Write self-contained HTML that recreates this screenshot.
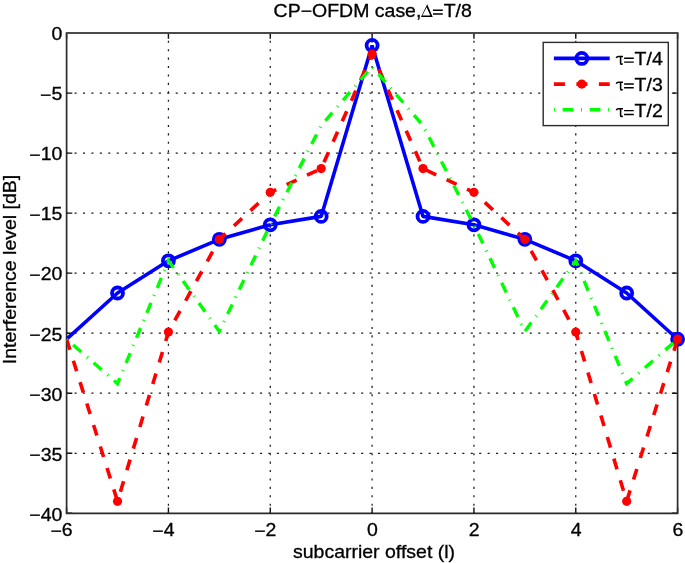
<!DOCTYPE html><html><head><meta charset="utf-8"><style>html,body{margin:0;padding:0;background:#fff;}svg{display:block;will-change:transform}text{font-family:'Liberation Sans',sans-serif;}</style></head><body>
<svg width="685" height="563" viewBox="0 0 685 563">
<rect x="0" y="0" width="685" height="563" fill="#fff"/>
<line x1="168.43" y1="33.05" x2="168.43" y2="513.30" style="stroke:#1c1c1c;stroke-width:1.25;stroke-dasharray:2.1 6.316;stroke-dashoffset:0.72;fill:none"/><line x1="270.27" y1="33.05" x2="270.27" y2="513.30" style="stroke:#1c1c1c;stroke-width:1.25;stroke-dasharray:2.1 6.316;stroke-dashoffset:0.72;fill:none"/><line x1="372.10" y1="33.05" x2="372.10" y2="513.30" style="stroke:#1c1c1c;stroke-width:1.25;stroke-dasharray:2.1 6.316;stroke-dashoffset:0.72;fill:none"/><line x1="473.93" y1="33.05" x2="473.93" y2="513.30" style="stroke:#1c1c1c;stroke-width:1.25;stroke-dasharray:2.1 6.316;stroke-dashoffset:0.72;fill:none"/><line x1="575.77" y1="33.05" x2="575.77" y2="513.30" style="stroke:#1c1c1c;stroke-width:1.25;stroke-dasharray:2.1 6.316;stroke-dashoffset:0.72;fill:none"/><line x1="66.60" y1="453.27" x2="677.60" y2="453.27" style="stroke:#1c1c1c;stroke-width:1.25;stroke-dasharray:2.1 6.33;stroke-dashoffset:0.5;fill:none"/><line x1="66.60" y1="393.24" x2="677.60" y2="393.24" style="stroke:#1c1c1c;stroke-width:1.25;stroke-dasharray:2.1 6.33;stroke-dashoffset:0.5;fill:none"/><line x1="66.60" y1="333.21" x2="677.60" y2="333.21" style="stroke:#1c1c1c;stroke-width:1.25;stroke-dasharray:2.1 6.33;stroke-dashoffset:0.5;fill:none"/><line x1="66.60" y1="273.17" x2="677.60" y2="273.17" style="stroke:#1c1c1c;stroke-width:1.25;stroke-dasharray:2.1 6.33;stroke-dashoffset:0.5;fill:none"/><line x1="66.60" y1="213.14" x2="677.60" y2="213.14" style="stroke:#1c1c1c;stroke-width:1.25;stroke-dasharray:2.1 6.33;stroke-dashoffset:0.5;fill:none"/><line x1="66.60" y1="153.11" x2="677.60" y2="153.11" style="stroke:#1c1c1c;stroke-width:1.25;stroke-dasharray:2.1 6.33;stroke-dashoffset:0.5;fill:none"/><line x1="66.60" y1="93.08" x2="677.60" y2="93.08" style="stroke:#1c1c1c;stroke-width:1.25;stroke-dasharray:2.1 6.33;stroke-dashoffset:0.5;fill:none"/>
<path d="M66.60 513.30V507.60M66.60 33.05V38.75M168.43 513.30V507.60M168.43 33.05V38.75M270.27 513.30V507.60M270.27 33.05V38.75M372.10 513.30V507.60M372.10 33.05V38.75M473.93 513.30V507.60M473.93 33.05V38.75M575.77 513.30V507.60M575.77 33.05V38.75M677.60 513.30V507.60M677.60 33.05V38.75M66.60 513.30H72.30M677.60 513.30H671.90M66.60 453.27H72.30M677.60 453.27H671.90M66.60 393.24H72.30M677.60 393.24H671.90M66.60 333.21H72.30M677.60 333.21H671.90M66.60 273.17H72.30M677.60 273.17H671.90M66.60 213.14H72.30M677.60 213.14H671.90M66.60 153.11H72.30M677.60 153.11H671.90M66.60 93.08H72.30M677.60 93.08H671.90M66.60 33.05H72.30M677.60 33.05H671.90" stroke="#111" stroke-width="1.4" fill="none"/>
<path d="M66.60 33.05V513.30H677.60V33.05" fill="none" stroke="#2a2a2a" stroke-width="1.7"/>
<path d="M65.75 33.05H678.45" fill="none" stroke="#4a4a4a" stroke-width="1.9"/>
<defs><clipPath id="c"><rect x="66.60" y="0" width="700" height="563"/></clipPath></defs>
<g clip-path="url(#c)">
<polyline points="66.60,339.21 117.52,292.99 168.43,260.81 219.35,239.32 270.27,224.79 321.18,216.39 372.10,45.42 423.02,216.39 473.93,224.79 524.85,239.32 575.77,260.81 626.68,292.99 677.60,339.21" fill="none" stroke="#0000ff" stroke-width="3.6" stroke-linejoin="bevel"/>
<circle cx="117.52" cy="292.99" r="5.5" fill="none" stroke="#0000ff" stroke-width="3.8"/>
<circle cx="168.43" cy="260.81" r="5.5" fill="none" stroke="#0000ff" stroke-width="3.8"/>
<circle cx="219.35" cy="239.32" r="5.5" fill="none" stroke="#0000ff" stroke-width="3.8"/>
<circle cx="270.27" cy="224.79" r="5.5" fill="none" stroke="#0000ff" stroke-width="3.8"/>
<circle cx="321.18" cy="216.39" r="5.5" fill="none" stroke="#0000ff" stroke-width="3.8"/>
<circle cx="372.10" cy="45.42" r="5.5" fill="none" stroke="#0000ff" stroke-width="3.8"/>
<circle cx="423.02" cy="216.39" r="5.5" fill="none" stroke="#0000ff" stroke-width="3.8"/>
<circle cx="473.93" cy="224.79" r="5.5" fill="none" stroke="#0000ff" stroke-width="3.8"/>
<circle cx="524.85" cy="239.32" r="5.5" fill="none" stroke="#0000ff" stroke-width="3.8"/>
<circle cx="575.77" cy="260.81" r="5.5" fill="none" stroke="#0000ff" stroke-width="3.8"/>
<circle cx="626.68" cy="292.99" r="5.5" fill="none" stroke="#0000ff" stroke-width="3.8"/>
<circle cx="677.60" cy="339.21" r="5.5" fill="none" stroke="#0000ff" stroke-width="3.8"/>
<polyline points="66.60,339.21 117.52,501.29 168.43,332.01 219.35,239.32 270.27,192.37 321.18,168.60 372.10,54.06 423.02,168.60 473.93,192.37 524.85,239.32 575.77,332.01 626.68,501.29 677.60,339.21" fill="none" stroke="#ff0000" stroke-width="3.6" stroke-dasharray="11 11.49"/>
<circle cx="117.52" cy="501.29" r="4.6" fill="#ff0000"/>
<circle cx="168.43" cy="332.01" r="4.6" fill="#ff0000"/>
<circle cx="219.35" cy="239.32" r="4.6" fill="#ff0000"/>
<circle cx="270.27" cy="192.37" r="4.6" fill="#ff0000"/>
<circle cx="321.18" cy="168.60" r="4.6" fill="#ff0000"/>
<circle cx="372.10" cy="54.06" r="4.6" fill="#ff0000"/>
<circle cx="423.02" cy="168.60" r="4.6" fill="#ff0000"/>
<circle cx="473.93" cy="192.37" r="4.6" fill="#ff0000"/>
<circle cx="524.85" cy="239.32" r="4.6" fill="#ff0000"/>
<circle cx="575.77" cy="332.01" r="4.6" fill="#ff0000"/>
<circle cx="626.68" cy="501.29" r="4.6" fill="#ff0000"/>
<circle cx="677.60" cy="339.21" r="4.6" fill="#ff0000"/>
<polyline points="66.60,339.21 117.52,383.63 168.43,260.81 219.35,331.41 270.27,224.79 321.18,125.50 372.10,66.67 423.02,125.50 473.93,224.79 524.85,331.41 575.77,260.81 626.68,383.63 677.60,339.21" fill="none" stroke="#00ff00" stroke-width="3.4" stroke-dasharray="1 7.7 10.7 7.7"/>
</g>
<rect x="543.20" y="42.40" width="125.10" height="83.20" fill="#fff" stroke="#2a2a2a" stroke-width="1.4"/>
<line x1="553.9" y1="58.40" x2="609.7" y2="58.40" stroke="#0000ff" stroke-width="3.6"/>
<circle cx="581.8" cy="58.40" r="5.5" fill="none" stroke="#0000ff" stroke-width="3.8"/>
<line x1="553.9" y1="84.10" x2="609.7" y2="84.10" stroke="#ff0000" stroke-width="3.6" stroke-dasharray="11 11.49"/>
<circle cx="581.8" cy="84.10" r="4.6" fill="#ff0000"/>
<line x1="553.9" y1="109.70" x2="609.7" y2="109.70" stroke="#00ff00" stroke-width="3.4" stroke-dasharray="1 7.7 10.7 7.7"/>
<path d="M616.30 58.00Q616.80 56.50 618.40 56.50L623.00 56.50M620.60 56.50L620.60 63.10Q620.70 65.10 622.70 63.70" fill="none" stroke="#000" stroke-width="1.55"/>
<path d="M624.1 58.30H633.8M624.1 62.10H633.8" stroke="#000" stroke-width="1.45" fill="none"/>
<text transform="translate(634.60,64.90) scale(1.0830,1)" font-size="18" text-anchor="start" fill="#000" stroke="#000" stroke-width="0.3">T/4</text>
<path d="M616.30 83.70Q616.80 82.20 618.40 82.20L623.00 82.20M620.60 82.20L620.60 88.80Q620.70 90.80 622.70 89.40" fill="none" stroke="#000" stroke-width="1.55"/>
<path d="M624.1 84.00H633.8M624.1 87.80H633.8" stroke="#000" stroke-width="1.45" fill="none"/>
<text transform="translate(634.60,90.60) scale(1.0830,1)" font-size="18" text-anchor="start" fill="#000" stroke="#000" stroke-width="0.3">T/3</text>
<path d="M616.30 110.30Q616.80 108.80 618.40 108.80L623.00 108.80M620.60 108.80L620.60 115.40Q620.70 117.40 622.70 116.00" fill="none" stroke="#000" stroke-width="1.55"/>
<path d="M624.1 110.60H633.8M624.1 114.40H633.8" stroke="#000" stroke-width="1.45" fill="none"/>
<text transform="translate(634.60,117.20) scale(1.0830,1)" font-size="18" text-anchor="start" fill="#000" stroke="#000" stroke-width="0.3">T/2</text>
<text transform="translate(62.30,520.60) scale(1.0830,1)" font-size="18" text-anchor="end" fill="#000" stroke="#000" stroke-width="0.3"><tspan dy="0.8">&#8722;</tspan><tspan dy="-0.8">40</tspan></text>
<text transform="translate(62.30,460.57) scale(1.0830,1)" font-size="18" text-anchor="end" fill="#000" stroke="#000" stroke-width="0.3"><tspan dy="0.8">&#8722;</tspan><tspan dy="-0.8">35</tspan></text>
<text transform="translate(62.30,400.54) scale(1.0830,1)" font-size="18" text-anchor="end" fill="#000" stroke="#000" stroke-width="0.3"><tspan dy="0.8">&#8722;</tspan><tspan dy="-0.8">30</tspan></text>
<text transform="translate(62.30,340.51) scale(1.0830,1)" font-size="18" text-anchor="end" fill="#000" stroke="#000" stroke-width="0.3"><tspan dy="0.8">&#8722;</tspan><tspan dy="-0.8">25</tspan></text>
<text transform="translate(62.30,280.47) scale(1.0830,1)" font-size="18" text-anchor="end" fill="#000" stroke="#000" stroke-width="0.3"><tspan dy="0.8">&#8722;</tspan><tspan dy="-0.8">20</tspan></text>
<text transform="translate(62.30,220.44) scale(1.0830,1)" font-size="18" text-anchor="end" fill="#000" stroke="#000" stroke-width="0.3"><tspan dy="0.8">&#8722;</tspan><tspan dy="-0.8">15</tspan></text>
<text transform="translate(62.30,160.41) scale(1.0830,1)" font-size="18" text-anchor="end" fill="#000" stroke="#000" stroke-width="0.3"><tspan dy="0.8">&#8722;</tspan><tspan dy="-0.8">10</tspan></text>
<text transform="translate(62.30,100.38) scale(1.0830,1)" font-size="18" text-anchor="end" fill="#000" stroke="#000" stroke-width="0.3"><tspan dy="0.8">&#8722;</tspan><tspan dy="-0.8">5</tspan></text>
<text transform="translate(62.30,40.35) scale(1.0830,1)" font-size="18" text-anchor="end" fill="#000" stroke="#000" stroke-width="0.3">0</text>
<text transform="translate(61.60,535.90) scale(1.0830,1)" font-size="18" text-anchor="middle" fill="#000" stroke="#000" stroke-width="0.3"><tspan dy="1.5">&#8722;</tspan><tspan dy="-1.5">6</tspan></text>
<text transform="translate(163.43,535.90) scale(1.0830,1)" font-size="18" text-anchor="middle" fill="#000" stroke="#000" stroke-width="0.3"><tspan dy="1.5">&#8722;</tspan><tspan dy="-1.5">4</tspan></text>
<text transform="translate(265.27,535.90) scale(1.0830,1)" font-size="18" text-anchor="middle" fill="#000" stroke="#000" stroke-width="0.3"><tspan dy="1.5">&#8722;</tspan><tspan dy="-1.5">2</tspan></text>
<text transform="translate(372.40,535.90) scale(1.0830,1)" font-size="18" text-anchor="middle" fill="#000" stroke="#000" stroke-width="0.3">0</text>
<text transform="translate(474.23,535.90) scale(1.0830,1)" font-size="18" text-anchor="middle" fill="#000" stroke="#000" stroke-width="0.3">2</text>
<text transform="translate(576.07,535.90) scale(1.0830,1)" font-size="18" text-anchor="middle" fill="#000" stroke="#000" stroke-width="0.3">4</text>
<text transform="translate(677.90,535.90) scale(1.0830,1)" font-size="18" text-anchor="middle" fill="#000" stroke="#000" stroke-width="0.3">6</text>
<text transform="translate(273.60,16.90) scale(1.0830,1)" font-size="18" text-anchor="start" fill="#000" stroke="#000" stroke-width="0.3">CP&#8722;OFDM case,</text>
<path d="M427.2 4.3L421.0 16.9L432.7 16.9ZM426.6 7.3L422.4 15.6L430.3 15.6Z" fill="#000" fill-rule="evenodd"/>
<path d="M433.0 10.2H442.8M433.0 14.0H442.8" stroke="#000" stroke-width="1.45" fill="none"/>
<text transform="translate(443.70,16.90) scale(1.0830,1)" font-size="18" text-anchor="start" fill="#000" stroke="#000" stroke-width="0.3">T/8</text>
<text transform="translate(374.00,558.30) scale(1.0830,1)" font-size="18" text-anchor="middle" fill="#000" stroke="#000" stroke-width="0.3">subcarrier offset (l)</text>
<text transform="translate(16.00,269.50) rotate(-90) scale(1.0830,1)" font-size="18" text-anchor="middle" fill="#000" stroke="#000" stroke-width="0.3">Interference level [dB]</text>
</svg></body></html>
